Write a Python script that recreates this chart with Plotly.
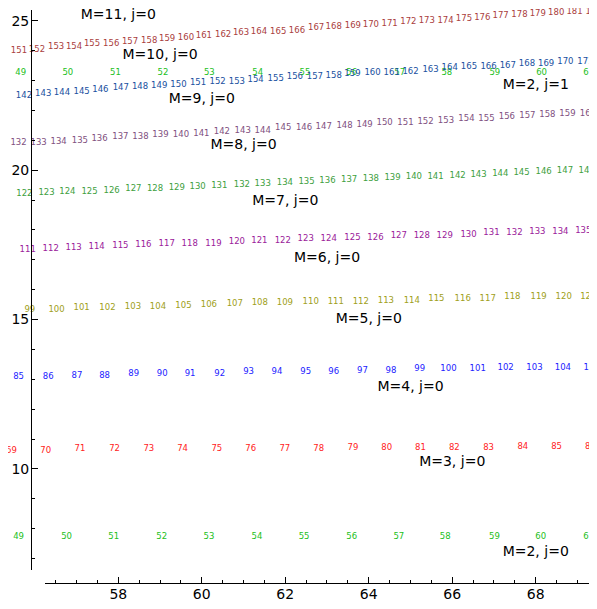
import plotly.graph_objects as go

# label numbers for each row (M, j) and where they sit
m2j0_n = list(range(49, 62))
m2j0_x = [55.61, 56.76, 57.89, 59.04, 60.17, 61.32, 62.45, 63.59, 64.72, 65.83, 67.01, 68.12, 69.27]
m2j0_y = [7.74] * 13

m2j1_n = list(range(49, 62))
m2j1_x = [55.66, 56.79, 57.93, 59.07, 60.18, 61.34, 62.47, 63.59, 64.74, 65.87, 67.02, 68.14, 69.27]
m2j1_y = [23.24, 23.24, 23.24, 23.27, 23.27, 23.27, 23.27, 23.27, 23.25, 23.24, 23.25, 23.27, 23.24]

m3_n = list(range(69, 87))
m3_x = [55.44, 56.26, 57.08, 57.91, 58.73, 59.54, 60.36, 61.17, 61.99, 62.80,
        63.62, 64.43, 65.24, 66.05, 66.87, 67.69, 68.50, 69.31]
m3_y = [10.61, 10.60, 10.66, 10.66, 10.66, 10.66, 10.68, 10.68, 10.68, 10.68,
        10.71, 10.71, 10.71, 10.71, 10.71, 10.75, 10.75, 10.75]

m4_n = list(range(85, 106))
m4_x = [55.61, 56.32, 57.01, 57.67, 58.37, 59.05, 59.72, 60.43, 61.12, 61.80, 62.49,
        63.16, 63.85, 64.53, 65.22, 65.91, 66.61, 67.28, 67.97, 68.65, 69.34]
m4_y = [13.09, 13.09, 13.11, 13.11, 13.17, 13.17, 13.20, 13.20, 13.24, 13.24, 13.26,
        13.26, 13.29, 13.29, 13.34, 13.34, 13.34, 13.37, 13.37, 13.39, 13.39]

m5_n = list(range(98, 122))
m5_x = [55.27, 55.88, 56.52, 57.12, 57.74, 58.35, 58.95, 59.56, 60.17, 60.79, 61.39, 61.99,
        62.61, 63.21, 63.81, 64.41, 65.03, 65.62, 66.25, 66.85, 67.44, 68.07, 68.67, 69.26]
m5_y = [15.26, 15.32, 15.34, 15.38, 15.38, 15.41, 15.43, 15.47, 15.48, 15.51, 15.55, 15.55,
        15.58, 15.58, 15.60, 15.63, 15.63, 15.68, 15.68, 15.71, 15.75, 15.75, 15.77, 15.77]

m6_n = list(range(110, 136))
m6_x = [55.29, 55.83, 56.38, 56.93, 57.48, 58.05, 58.60, 59.16, 59.71, 60.28, 60.84, 61.38, 61.94,
        62.49, 63.04, 63.61, 64.16, 64.72, 65.27, 65.82, 66.39, 66.94, 67.49, 68.04, 68.59, 69.14]
m6_y = [17.30, 17.33, 17.35, 17.39, 17.42, 17.46, 17.49, 17.52, 17.55, 17.55, 17.59, 17.63, 17.64,
        17.69, 17.71, 17.72, 17.75, 17.79, 17.81, 17.81, 17.84, 17.89, 17.89, 17.92, 17.95, 17.97]

m7_n = list(range(121, 149))
m7_x = [55.29, 55.75, 56.28, 56.78, 57.31, 57.84, 58.36, 58.88, 59.40, 59.90, 60.42, 60.96, 61.46, 61.99,
        62.51, 63.01, 63.53, 64.05, 64.57, 65.08, 65.60, 66.13, 66.63, 67.15, 67.66, 68.19, 68.70, 69.22]
m7_y = [19.15, 19.19, 19.23, 19.26, 19.28, 19.31, 19.36, 19.38, 19.41, 19.45, 19.48, 19.51, 19.54, 19.58,
        19.61, 19.65, 19.67, 19.71, 19.73, 19.76, 19.78, 19.81, 19.85, 19.88, 19.91, 19.93, 19.96, 19.98]

m8_n = list(range(131, 161))
m8_x = [55.13, 55.61, 56.09, 56.57, 57.08, 57.55, 58.05, 58.53, 59.01, 59.50, 59.99, 60.48, 60.98, 61.46, 61.95,
        62.45, 62.92, 63.42, 63.90, 64.38, 64.88, 65.36, 65.85, 66.34, 66.82, 67.31, 67.80, 68.28, 68.76, 69.25]
m8_y = [20.90, 20.90, 20.92, 20.95, 20.99, 21.03, 21.10, 21.12, 21.18, 21.19, 21.23, 21.27, 21.30, 21.33, 21.40,
        21.43, 21.45, 21.49, 21.53, 21.57, 21.59, 21.62, 21.65, 21.70, 21.73, 21.77, 21.80, 21.84, 21.87, 21.87]

m9_n = list(range(141, 172))
m9_x = [55.29, 55.74, 56.20, 56.65, 57.12, 57.57, 58.06, 58.52, 58.98, 59.44, 59.91, 60.38, 60.84, 61.29, 61.77, 62.23,
        62.71, 63.16, 63.61, 64.09, 64.55, 65.00, 65.48, 65.94, 66.40, 66.87, 67.33, 67.79, 68.25, 68.71, 69.19]
m9_y = [22.46, 22.49, 22.54, 22.59, 22.62, 22.67, 22.74, 22.77, 22.82, 22.84, 22.91, 22.95, 22.97, 23.01, 23.04, 23.11,
        23.13, 23.16, 23.22, 23.24, 23.26, 23.29, 23.35, 23.41, 23.44, 23.46, 23.49, 23.54, 23.57, 23.61, 23.63]

m10_n = list(range(150, 183))
m10_x = [55.18, 55.62, 56.05, 56.51, 56.94, 57.37, 57.83, 58.28, 58.74, 59.17, 59.62, 60.05, 60.51, 60.94, 61.37, 61.83, 62.28,
         62.74, 63.16, 63.62, 64.05, 64.50, 64.95, 65.39, 65.84, 66.28, 66.72, 67.16, 67.61, 68.05, 68.49, 68.93, 69.39]
m10_y = [23.95, 24.00, 24.04, 24.11, 24.13, 24.21, 24.24, 24.28, 24.33, 24.38, 24.44, 24.49, 24.52, 24.58, 24.61, 24.63, 24.67,
         24.75, 24.78, 24.82, 24.86, 24.91, 24.95, 24.98, 25.01, 25.05, 25.08, 25.16, 25.19, 25.22, 25.25, 25.28, 25.30]

m11_n = list(range(159, 167))
m11_x = [55.24, 55.65, 56.08, 56.53, 56.96, 57.39, 57.80, 58.21]
m11_y = [25.42, 25.44, 25.49, 25.52, 25.60, 25.62, 25.69, 25.73]

# series captions
cap_text = ["M=11, j=0", "M=10, j=0", "M=9, j=0", "M=8, j=0", "M=7, j=0", "M=6, j=0",
            "M=5, j=0", "M=4, j=0", "M=3, j=0", "M=2, j=0", "M=2, j=1"]
cap_x = [58, 59, 60, 61, 62, 63, 64, 65, 66, 68, 68]
cap_y = [25.16, 23.85, 22.35, 20.84, 18.94, 17.03, 15.02, 12.74, 10.23, 7.22, 22.83]

rows = [
    (m2j0_n, m2j0_x, m2j0_y, '#22c022'),
    (m2j1_n, m2j1_x, m2j1_y, '#22c022'),
    (m3_n, m3_x, m3_y, '#ff2222'),
    (m4_n, m4_x, m4_y, '#2222ff'),
    (m5_n, m5_x, m5_y, '#a0a020'),
    (m6_n, m6_x, m6_y, '#9a209a'),
    (m7_n, m7_x, m7_y, '#40a040'),
    (m8_n, m8_x, m8_y, '#805080'),
    (m9_n, m9_x, m9_y, '#2050a0'),
    (m10_n, m10_x, m10_y, '#aa4040'),
    (m11_n, m11_x, m11_y, '#40b040'),
]

FONT = 'DejaVu Sans'
fig = go.Figure()

# labels live on a full-page axis pair so the ones past the spines still show
for n, x, y, color in rows:
    fig.add_trace(go.Scatter(
        x=x, y=y, mode='text', text=[str(v) for v in n],
        textposition='middle center',
        textfont=dict(family=FONT, size=8.5, color=color),
        cliponaxis=False, hoverinfo='skip', showlegend=False))

fig.add_trace(go.Scatter(
    x=cap_x, y=cap_y, mode='text', text=cap_text,
    textposition='middle center',
    textfont=dict(family=FONT, size=14, color='black'),
    cliponaxis=False, hoverinfo='skip', showlegend=False))

# empty trace so the visible (offset) spines get drawn
fig.add_trace(go.Scatter(x=[], y=[], xaxis='x2', yaxis='y2',
                         hoverinfo='skip', showlegend=False))

axis_style = dict(showline=True, linecolor='black', linewidth=1,
                  ticks='inside', ticklen=6, tickcolor='black',
                  showgrid=False, zeroline=False, automargin=False,
                  tickfont=dict(family=FONT, size=14, color='black'))

# page body has an 8px margin, so the figure is 8px smaller than the window
fig.update_layout(
    width=589, height=593,
    margin=dict(l=0, r=0, t=0, b=0),
    paper_bgcolor='white', plot_bgcolor='rgba(0,0,0,0)',
    font=dict(family=FONT, size=14, color='black'),
    xaxis=dict(domain=[0, 1], range=[55.357, 69.468], visible=False, fixedrange=True),
    yaxis=dict(domain=[0, 1], range=[5.586, 25.425], visible=False, fixedrange=True),
    xaxis2=dict(domain=[0.0628, 0.9859], anchor='free', position=0.0299,
                range=[56.244, 69.27], tick0=0, dtick=2, ticklabelstandoff=-2,
                minor=dict(dtick=0.5, ticks='inside', ticklen=3, tickcolor='black'),
                **axis_style),
    yaxis2=dict(domain=[0.0523, 0.9966], anchor='free', position=0.0391,
                range=[6.62, 25.36], tick0=0, dtick=5, ticklabelstandoff=-1,
                minor=dict(dtick=1, ticks='inside', ticklen=3, tickcolor='black'),
                **axis_style),
)

fig.write_html("out.html")
